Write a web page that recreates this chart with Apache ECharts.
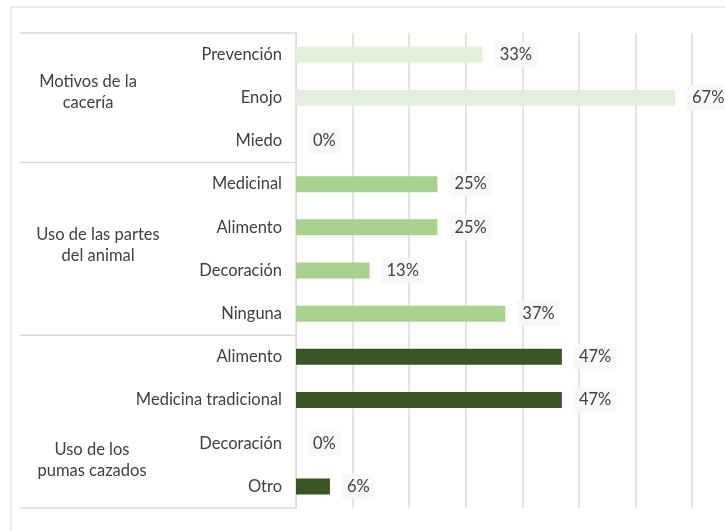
<!DOCTYPE html>
<html><head><meta charset="utf-8">
<script src="https://cdn.jsdelivr.net/npm/echarts@6/dist/echarts.min.js"></script>
<style>html,body{margin:0;padding:0;background:#fff}#c{width:725px;height:531px}</style>
</head><body><div id="c"></div>
<script>
const categories = ['Prevención','Enojo','Miedo','Medicinal','Alimento','Decoración','Ninguna','Alimento','Medicina tradicional','Decoración','Otro'];
const values = [33,67,0,25,25,13,37,47,47,0,6];
const groupOf = [0,0,0,1,1,1,1,2,2,2,2];
const groupNames = ['Motivos de la\ncacería','Uso de las partes\ndel animal','Uso de los\npumas cazados'];
const groupColors = ['#e2efda','#a9d18e','#375623'];
const xTicks = [0,10,20,30,40,50,60,70];

const chart = echarts.init(document.getElementById('c'));
const FONT = 'Lato';
const FS = 16.5;
const option = {
  animation:false,
  grid:{left:296,right:33,top:33,bottom:23,containLabel:false},
  xAxis:{type:'value',min:xTicks[0],max:xTicks[xTicks.length-1],interval:10,
    axisLabel:{show:false},axisLine:{show:false},axisTick:{show:false},
    splitLine:{show:true,lineStyle:{color:'#dadada',width:1.5}}},
  yAxis:{type:'category',data:categories,inverse:true,
    axisLine:{show:true,lineStyle:{color:'#d9d9d9',width:1}},axisTick:{show:false},
    axisLabel:{margin:14,color:'#404040',fontFamily:FONT,fontSize:FS}},
  series:[{type:'bar',barWidth:16,
    data:values.map((v,i)=>({value:v,itemStyle:{color:groupColors[groupOf[i]]}})),
    label:{show:true,position:'right',distance:12,formatter:'{c}%',color:'#404040',
      fontFamily:FONT,fontSize:FS,backgroundColor:'#f8f8f8',padding:[4,5]}}]
};
chart.setOption(option);

// table-like decorations
const py0 = chart.convertToPixel({yAxisIndex:0},0);
const py1 = chart.convertToPixel({yAxisIndex:0},1);
const band = py1-py0;
const gridTop = py0 - band/2;
const boundaries = [0,3,7,11].map(k=>gridTop+k*band);
const graphics = [
  {type:'rect',shape:{x:11,y:7,width:730,height:540},style:{fill:'none',stroke:'#d9d9d9',lineWidth:1}}
];
boundaries.forEach(b=>{
  graphics.push({type:'line',shape:{x1:20,y1:b,x2:296,y2:b},style:{stroke:'#d9d9d9',lineWidth:1.5}});
});
const labelPos = [[88,92],[98,245],[92,460]];
groupNames.forEach((g,i)=>{
  graphics.push({type:'text',x:labelPos[i][0],y:labelPos[i][1],
    style:{text:g,fill:'#404040',font:FS+'px '+FONT,align:'center',verticalAlign:'middle',lineHeight:21}});
});
chart.setOption({graphic:graphics});
</script></body></html>
